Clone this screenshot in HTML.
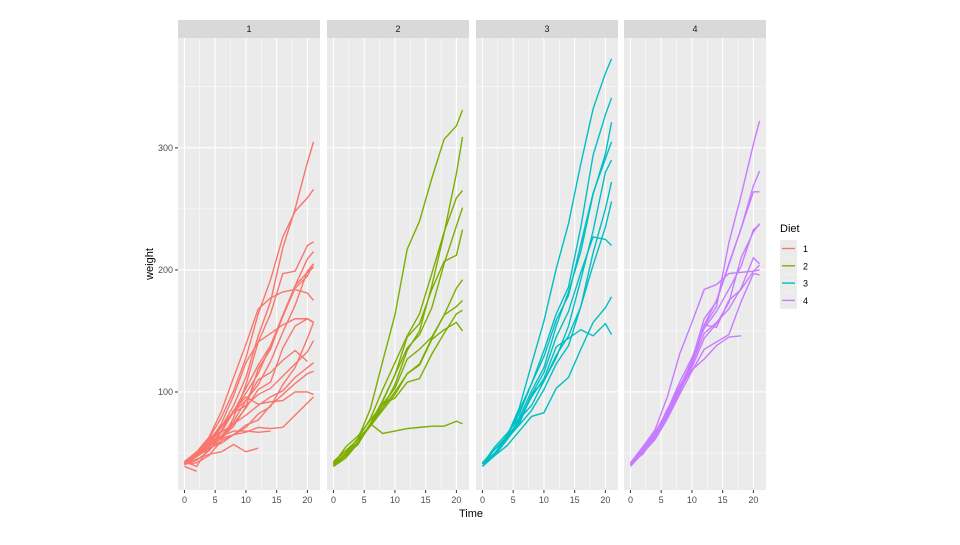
<!DOCTYPE html>
<html><head><meta charset="utf-8"><style>
body{margin:0;background:#fff}
svg text{font-family:"Liberation Sans",sans-serif}
</style></head><body>
<svg id="chart" width="960" height="540" xmlns="http://www.w3.org/2000/svg"></svg>
<script>
const times=[0,2,4,6,8,10,12,14,16,18,20,21];
const dietLabels=["1","2","3","4"];
const colors=["#F8766D","#7CAE00","#00BFC4","#C77CFF"];
const xTicks=[0,5,10,15,20];
const yTicks=[100,200,300];
const diet1=[
[42,51,59,64,76,93,106,125,149,171,199,205],
[40,49,58,72,84,103,122,138,162,187,209,215],
[43,39,55,67,84,99,115,138,163,187,198,202],
[42,49,56,67,74,87,102,108,136,154,160,157],
[41,42,48,60,79,106,141,164,197,199,220,223],
[41,49,59,74,97,124,141,148,155,160,160,157],
[41,49,57,71,89,112,146,174,218,250,288,305],
[42,50,61,71,84,93,110,116,126,134,125],
[42,51,59,68,85,96,90,92,93,100,100,98],
[41,44,52,63,74,81,89,96,101,112,120,124],
[43,51,63,84,112,139,168,177,182,184,181,175],
[41,49,56,62,72,88,119,135,162,185,195,205],
[41,48,53,60,65,67,71,70,71,81,91,96],
[41,49,62,79,101,128,164,192,227,248,259,266],
[41,49,56,64,68,68,67,68],
[41,45,49,51,57,51,54],
[42,51,61,72,83,89,98,103,113,123,133,142],
[39,35],
[43,48,55,62,65,71,82,88,106,120,144,157],
[41,47,54,58,65,73,77,89,98,107,115,117]];
const diet2=[
[40,50,62,86,125,163,217,240,275,307,318,331],
[41,55,64,77,90,95,108,111,131,148,164,167],
[43,52,61,73,90,103,127,135,145,163,170,175],
[42,52,58,74,66,68,70,71,72,72,76,74],
[40,49,62,78,102,124,146,164,197,231,259,265],
[42,48,57,74,93,114,136,147,169,205,236,251],
[39,46,58,73,87,100,115,123,144,163,185,192],
[39,46,58,73,92,114,145,156,184,207,212,233],
[39,48,59,74,87,106,134,150,187,230,279,309],
[42,48,59,72,85,98,115,122,143,151,157,150]];
const diet3=[
[42,53,62,73,85,102,123,138,170,204,235,256],
[41,49,65,82,107,129,159,179,221,263,291,305],
[39,50,63,77,96,111,137,144,151,146,156,147],
[41,49,63,85,107,134,164,186,235,294,327,341],
[41,53,64,87,123,158,201,238,287,332,361,373],
[39,48,61,76,98,116,145,166,198,227,225,220],
[41,48,56,68,80,83,103,112,135,157,169,178],
[41,49,61,74,98,109,128,154,192,232,280,290],
[42,50,61,78,89,109,130,146,170,214,250,272],
[41,55,66,79,101,120,154,182,215,262,295,321]];
const diet4=[
[42,51,66,85,103,124,155,153,175,184,199,204],
[42,49,63,84,103,126,160,174,204,234,269,281],
[42,55,69,96,131,157,184,188,197,198,199,200],
[42,51,65,86,103,118,127,138,145,146],
[41,50,61,78,98,117,135,141,147,174,197,196],
[40,52,62,82,101,120,144,156,173,210,231,238],
[41,53,66,79,100,123,148,157,168,185,210,205],
[39,50,62,80,104,125,154,170,222,261,303,322],
[40,53,64,85,108,128,152,166,184,203,233,237],
[41,54,67,84,105,122,155,175,205,234,264,264]];
const diets=[diet1,diet2,diet3,diet4];

const svg=document.getElementById('chart');
const NS="http://www.w3.org/2000/svg";
function mk(tag,attrs,parent){const e=document.createElementNS(NS,tag);for(const k in attrs)e.setAttribute(k,attrs[k]);(parent||svg).appendChild(e);return e;}
const panelX=[178,327,476,624], panelW=142, plotTop=38, plotBottom=490;
const xMin=-1.05,xMax=22.05;
const yMin=19.7,yMax=390;
function sx(p,t){return panelX[p]+(t-xMin)/(xMax-xMin)*panelW;}
function sy(w){return plotBottom-(w-yMin)/(yMax-yMin)*(plotBottom-plotTop);}

for(let p=0;p<4;p++){
  const g=mk('g',{});
  
  
  mk('rect',{x:panelX[p],y:plotTop,width:panelW,height:plotBottom-plotTop,fill:'#EBEBEB'},g);
  for(let v=50;v<=350;v+=100) mk('line',{x1:panelX[p],x2:panelX[p]+panelW,y1:sy(v),y2:sy(v),stroke:'#fff','stroke-width':0.5},g);
  for(let t=2.5;t<=22;t+=5) mk('line',{x1:sx(p,t),x2:sx(p,t),y1:plotTop,y2:plotBottom,stroke:'#fff','stroke-width':0.5},g);
  yTicks.forEach(v=>mk('line',{x1:panelX[p],x2:panelX[p]+panelW,y1:sy(v),y2:sy(v),stroke:'#fff','stroke-width':1.1},g));
  xTicks.forEach(t=>{
    mk('line',{x1:sx(p,t),x2:sx(p,t),y1:plotTop,y2:plotBottom,stroke:'#fff','stroke-width':1.1},g);
    mk('line',{x1:sx(p,t),x2:sx(p,t),y1:plotBottom,y2:plotBottom+3,stroke:'#333','stroke-width':1},g);
    const tx=mk('text',{x:sx(p,t),y:plotBottom+13,'font-size':9,fill:'#4D4D4D','text-anchor':'middle'},g);
    
    
    tx.textContent=t;
  });
  const strip=mk('rect',{x:panelX[p],y:20,width:panelW,height:18,fill:'#D9D9D9'},g);
  
  
  const st=mk('text',{x:panelX[p]+panelW/2,y:32,'font-size':9,fill:'#1A1A1A','text-anchor':'middle'},g);
  
  
  st.textContent=dietLabels[p];
  diets[p].forEach(ch=>{
    const d=ch.map((w,i)=>(i?'L':'M')+sx(p,times[i]).toFixed(2)+','+sy(w).toFixed(2)).join('');
    const path=mk('path',{d:d,fill:'none',stroke:colors[p],'stroke-width':1.4},g);
    
    
  });
}
yTicks.forEach(v=>{
  mk('line',{x1:175,x2:178,y1:sy(v),y2:sy(v),stroke:'#333'});
  const t=mk('text',{x:173,y:sy(v)+3,'font-size':9,fill:'#4D4D4D','text-anchor':'end'});
  
  
  t.textContent=v;
});
const yt=mk('text',{x:0,y:0,'font-size':11,fill:'#000','text-anchor':'middle',transform:'translate(153,264) rotate(-90)'});


yt.textContent='weight';
const xt=mk('text',{x:471,y:517,'font-size':11,fill:'#000','text-anchor':'middle'});


xt.textContent='Time';
const lg=mk('g',{});


const lt=mk('text',{x:780,y:232,'font-size':11,fill:'#000'},lg);


lt.textContent='Diet';
dietLabels.forEach((d,i)=>{
  const y=240+i*17.3;
  const e=mk('g',{},lg);
  
  
  mk('rect',{x:780,y:y,width:17,height:17,fill:'#EBEBEB'},e);
  mk('line',{x1:782,x2:795,y1:y+8.5,y2:y+8.5,stroke:colors[i],'stroke-width':1.4},e);
  const t=mk('text',{x:803,y:y+12,'font-size':9,fill:'#000'},e);
  t.textContent=d;
});
</script>
</body></html>
